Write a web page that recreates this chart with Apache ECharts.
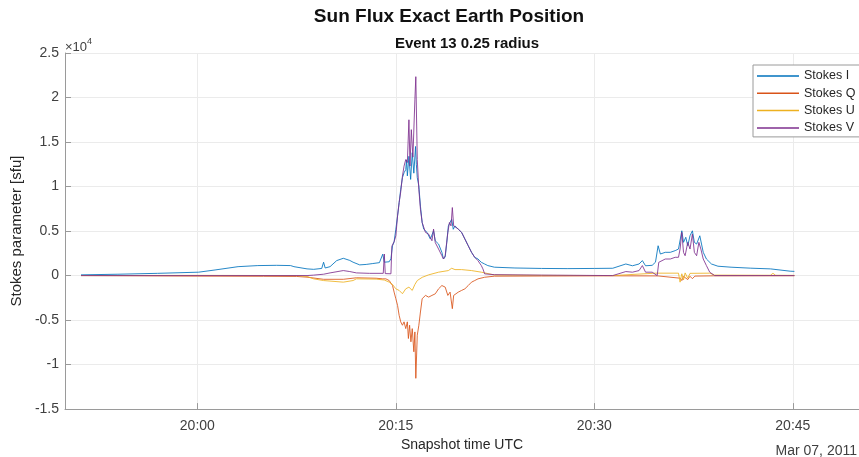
<!DOCTYPE html>
<html>
<head>
<meta charset="utf-8">
<script src="https://cdn.jsdelivr.net/npm/echarts@6/dist/echarts.min.js"></script>
<style>html,body{margin:0;padding:0;background:#fff}#c{width:859px;height:457px}</style>
</head>
<body>
<div id="c"></div>
<script>
// Time in minutes after 20:00 UTC (Mar 07, 2011); values in sfu
const xTickValues = [0, 15, 30, 45];
const xTickLabels = ['20:00', '20:15', '20:30', '20:45'];
const seriesNames = ['Stokes I', 'Stokes Q', 'Stokes U', 'Stokes V'];

const iTime = [-8.79,-6,-3,0.10,1.34,3.08,4.57,6.0,7.05,7.30,8.29,8.79,9.40,9.54,9.66,10.03,10.53,11.03,11.52,11.77,12.27,12.76,13.26,13.76,14.01,14.13,14.25,14.50,14.63,14.75,14.87,15.00,15.13,15.25,15.37,15.50,15.62,15.75,15.81,15.87,15.99,16.12,16.24,16.36,16.49,16.55,16.62,16.74,16.86,16.99,17.11,17.36,17.61,17.85,17.98,18.23,18.48,18.60,18.73,18.85,18.97,19.10,19.22,19.34,19.47,19.72,19.97,20.22,20.47,20.72,20.96,21.21,21.46,21.71,21.95,22.45,24,26,28,30,31.39,32.38,32.88,33.38,33.63,33.87,34.37,34.62,34.82,34.99,35.36,35.74,36.11,36.36,36.61,36.74,36.91,37.06,37.23,37.41,37.56,37.73,37.97,38.23,38.47,38.85,39.34,40.33,41.82,43.31,44.80,45.12];
const iValue = [80,150,250,380,630,1000,1120,1150,1120,1000,750,700,800,1500,850,1000,1680,1940,1700,1500,1200,1250,1350,1450,2400,1500,1490,1550,1900,3350,3800,5200,6700,8200,9700,11000,11550,11900,13000,11200,13400,10800,13800,11500,14500,12500,11000,10050,7800,5960,5200,4850,4100,5030,3900,3540,2610,1860,2100,3730,5580,5700,6330,5200,5580,5200,4850,4100,3350,2610,2050,1860,1490,1300,1120,940,850,800,780,800,820,1300,1100,1300,1680,1100,1150,1500,3350,2420,2610,2610,2800,2980,5030,3730,4300,3350,4470,5030,3730,3540,4470,2610,1860,1300,1050,940,830,750,490,470];

const qTime = [-8.79,-4,0,5,7.5,8.29,9.54,11.03,12.02,13.51,14.01,14.25,14.50,14.75,14.87,15.00,15.13,15.25,15.37,15.50,15.62,15.75,15.87,15.95,16.04,16.14,16.24,16.36,16.44,16.51,16.62,16.74,16.86,16.99,17.11,17.24,17.48,17.73,17.98,18.23,18.48,18.60,18.73,18.93,19.10,19.27,19.37,19.47,19.72,19.97,20.22,20.47,20.72,20.96,21.21,21.71,22.45,26,31.39,34.8,36.5,36.61,36.74,37.06,37.23,37.41,37.6,39,45.12];
const qValue = [0,-30,-60,-80,-100,-180,-420,-420,-250,-300,-370,-370,-560,-1120,-1860,-2600,-3350,-4470,-5200,-5580,-5200,-5960,-5200,-7070,-5580,-7440,-5960,-8560,-6330,-11540,-6700,-5580,-4090,-2600,-2420,-2230,-2420,-2230,-2050,-1490,-1120,-930,-1300,-2230,-1860,-3720,-2230,-2420,-1860,-1670,-1490,-1120,-740,-560,-370,-190,-70,-50,-30,-40,-300,-560,-100,-450,-80,-350,-60,-30,-20];

const uTime = [-8.79,0,7.5,8.29,8.79,9.54,11.03,11.77,12.02,13.51,14.13,14.50,14.75,15.00,15.25,15.50,15.75,15.99,16.24,16.44,16.62,16.99,17.48,18.23,18.97,19.22,19.47,19.97,20.72,21.46,22.45,26,31.39,34.62,36.36,36.48,36.61,36.74,36.86,37.06,37.23,38.72,39.09,43.3,43.5,43.7,45.12];
const uValue = [0,20,0,-100,-370,-560,-740,-560,-370,-400,-500,-740,-1000,-1490,-1670,-2040,-1490,-1300,-1670,-1000,-560,-200,80,380,560,820,670,670,560,380,70,20,0,270,270,-740,200,-500,300,-300,250,270,50,30,250,30,20];

const vTime = [-8.79,8.29,8.79,9.54,10.03,11.03,11.52,12.02,13.0,14.05,14.13,14.20,14.63,14.70,14.87,15.00,15.13,15.25,15.37,15.50,15.62,15.75,15.87,15.99,16.07,16.17,16.29,16.44,16.51,16.62,16.74,16.86,16.99,17.24,17.48,17.73,17.85,17.98,18.23,18.48,18.60,18.73,18.93,19.05,19.17,19.27,19.37,19.47,19.72,19.97,20.22,20.47,20.72,20.96,21.21,21.46,21.58,21.71,22.45,26,31.39,32.38,32.88,33.38,33.63,33.87,34.37,34.75,34.87,34.99,35.36,35.74,36.11,36.36,36.48,36.61,36.74,36.86,37.06,37.23,37.41,37.56,37.73,37.90,38.05,38.23,38.47,38.72,39.09,45.12];
const vValue = [0,0,50,150,300,560,450,300,250,250,2420,220,200,3300,3800,4470,6700,8200,9400,11170,12290,13030,12700,17500,12300,16390,13300,19740,22340,13030,9680,7450,5960,4850,4650,3910,5220,3700,2980,2230,1860,2230,4850,5960,5580,7640,5580,5770,5220,4850,4100,3350,2610,2050,1670,1120,750,190,100,50,0,450,380,560,1120,380,380,0,1490,1680,1860,1860,2050,2050,2980,4850,2600,2230,3730,2980,4660,2600,2230,3730,2980,1860,1120,380,0,0];

const colors = ['#0072BD', '#D95319', '#EDB120', '#7E2F8E'];
const FONT = "'Liberation Sans', Arial, Helvetica, sans-serif";

function pairs(t, v) { return t.map((x, i) => [x, v[i]]); }
const allData = [pairs(iTime, iValue), pairs(qTime, qValue), pairs(uTime, uValue), pairs(vTime, vValue)];

const chart = echarts.init(document.getElementById('c'), null, { renderer: 'canvas' });
chart.setOption({
  animation: false,
  backgroundColor: '#fff',
  color: colors,
  textStyle: { fontFamily: FONT },
  grid: { left: 65, top: 53, width: 805, height: 357, containLabel: false },
  xAxis: {
    type: 'value', min: -10, max: 50,
    name: 'Snapshot time UTC', nameLocation: 'middle', nameGap: 26,
    nameTextStyle: { fontSize: 14, color: '#262626', fontFamily: FONT },
    axisLine: { show: true, onZero: false, lineStyle: { color: '#9a9a9a', width: 1 } },
    axisTick: { show: true, inside: true, length: 6, customValues: xTickValues, lineStyle: { color: '#9a9a9a' } },
    axisLabel: { customValues: xTickValues, margin: 10, fontSize: 14, color: '#404040', fontFamily: FONT,
      formatter: v => xTickLabels[xTickValues.indexOf(v)] },
    splitLine: { show: true, lineStyle: { color: '#ebebeb', width: 1 } }
  },
  yAxis: {
    type: 'value', min: -15000, max: 25000, interval: 5000,
    name: 'Stokes parameter [sfu]', nameLocation: 'middle', nameGap: 31,
    nameTextStyle: { fontSize: 15, color: '#262626', fontFamily: FONT },
    axisLine: { show: true, onZero: false, lineStyle: { color: '#9a9a9a', width: 1 } },
    axisTick: { show: true, inside: true, length: 6, lineStyle: { color: '#9a9a9a' } },
    axisLabel: { margin: 6, fontSize: 14, color: '#404040', fontFamily: FONT, formatter: v => String(v / 10000) },
    splitLine: { show: true, lineStyle: { color: '#ebebeb', width: 1 } }
  },
  legend: {
    orient: 'vertical', left: 753, top: 65,
    data: seriesNames, icon: 'rect', itemWidth: 42, itemHeight: 1.5, itemGap: 3.3,
    padding: [4, 5, 2, 4], borderColor: '#9a9a9a', borderWidth: 1, backgroundColor: '#fff',
    textStyle: { fontSize: 12.5, color: '#262626', lineHeight: 14, fontFamily: FONT }
  },
  graphic: [
    { type: 'text', style: { text: 'Sun Flux Exact Earth Position', x: 449, y: 17, textAlign: 'center', textVerticalAlign: 'middle', font: "bold 19px 'Liberation Sans', Arial, sans-serif", fill: '#111' } },
    { type: 'text', style: { text: 'Event 13 0.25 radius', x: 467, y: 44, textAlign: 'center', textVerticalAlign: 'middle', font: "bold 15px 'Liberation Sans', Arial, sans-serif", fill: '#111' } },
    { type: 'text', style: { text: '×10', x: 65, y: 47, textAlign: 'left', textVerticalAlign: 'middle', font: "13px 'Liberation Sans', Arial, sans-serif", fill: '#404040' } },
    { type: 'text', style: { text: '4', x: 87, y: 42, textAlign: 'left', textVerticalAlign: 'middle', font: "9px 'Liberation Sans', Arial, sans-serif", fill: '#404040' } },
    { type: 'text', style: { text: 'Mar 07, 2011', x: 857, y: 451, textAlign: 'right', textVerticalAlign: 'middle', font: "14px 'Liberation Sans', Arial, sans-serif", fill: '#404040' } }
  ],
  series: seriesNames.map((n, k) => ({
    name: n, type: 'line', data: allData[k], showSymbol: false, symbol: 'none',
    lineStyle: { width: 1, color: colors[k], opacity: 0.85 }, z: 2 + k
  }))
});
</script>
</body>
</html>
